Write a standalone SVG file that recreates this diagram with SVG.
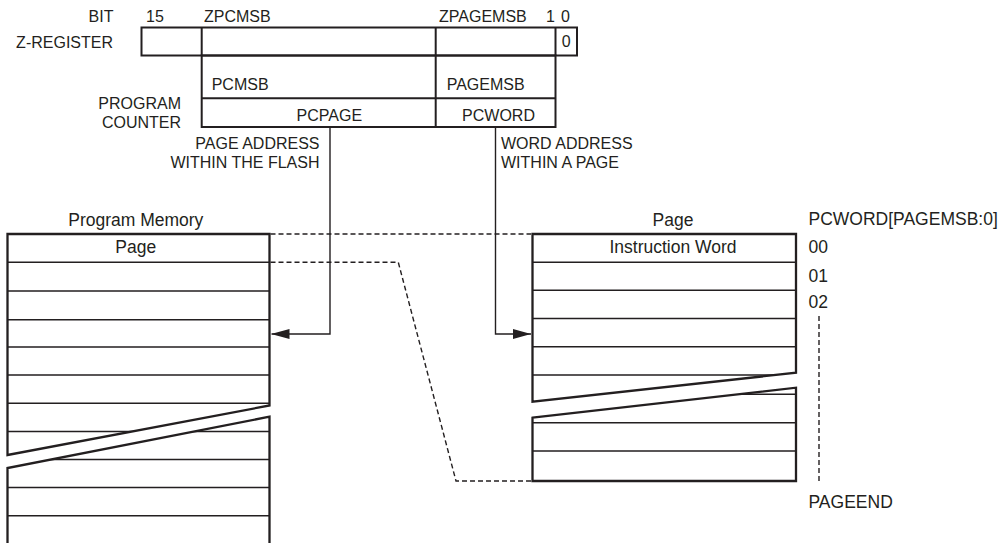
<svg xmlns="http://www.w3.org/2000/svg" width="1004" height="543" viewBox="0 0 1004 543">
  <style>
    text { font-family: "Liberation Sans", Arial, sans-serif; fill: #231f20; }
    .u { font-size: 16px; }
    .m { font-size: 17.5px; }
    .reg { fill: none; stroke: #231f20; stroke-width: 2; }
    .out { fill: none; stroke: #231f20; stroke-width: 2.3; stroke-linejoin: miter; }
    .row { stroke: #231f20; stroke-width: 1.4; fill: none; }
    .conn { fill: none; stroke: #231f20; stroke-width: 1.4; }
    .dash { fill: none; stroke: #231f20; stroke-width: 1.4; stroke-dasharray: 5 3; }
  </style>
  <defs>
    <marker id="arrow" viewBox="0 0 18 10" refX="18" refY="5" markerWidth="18" markerHeight="10" markerUnits="userSpaceOnUse" orient="auto">
      <path d="M0,0 L18,5 L0,10 Z" fill="#231f20"/>
    </marker>
    <clipPath id="pmUpper"><path d="M7.5,234 L269.5,234 L269.5,405.5 L7.5,455 Z"/></clipPath>
    <clipPath id="pmLower"><path d="M7.5,468 L269.5,416.7 L269.5,545 L7.5,545 Z"/></clipPath>
    <clipPath id="pgUpper"><path d="M532.5,234 L796,234 L796,372.7 L532.5,401.7 Z"/></clipPath>
    <clipPath id="pgLower"><path d="M532.5,417.7 L796,387.7 L796,481 L532.5,481 Z"/></clipPath>
  </defs>

  <g id="z-register">
    <text class="u" x="113.5" y="21.7" text-anchor="end">BIT</text>
    <text class="u" x="146" y="21.7">15</text>
    <text class="u" x="204" y="21.7">ZPCMSB</text>
    <text class="u" x="439" y="21.7">ZPAGEMSB</text>
    <text class="u" x="546" y="21.7">1</text>
    <text class="u" x="561" y="21.7">0</text>
    <text class="u" x="113" y="47.7" text-anchor="end">Z-REGISTER</text>
    <rect class="reg" x="141.5" y="27.5" width="435.5" height="28"/>
    <line class="reg" x1="201.7" y1="27.5" x2="201.7" y2="55.5"/>
    <line class="reg" x1="555.5" y1="27.5" x2="555.5" y2="55.5"/>
    <text class="u" x="566.3" y="47.2" text-anchor="middle">0</text>
  </g>

  <g id="program-counter">
    <rect class="reg" x="201.7" y="55.5" width="353.8" height="71.5"/>
    <line class="reg" x1="201.7" y1="98.3" x2="555.5" y2="98.3"/>
    <line class="reg" x1="435.7" y1="27.5" x2="435.7" y2="127"/>
    <text class="u" x="211.7" y="90">PCMSB</text>
    <text class="u" x="446.7" y="90">PAGEMSB</text>
    <text class="u" x="329.3" y="120.7" text-anchor="middle">PCPAGE</text>
    <text class="u" x="498.5" y="120.7" text-anchor="middle">PCWORD</text>
    <text class="u" x="181" y="109.3" text-anchor="end">PROGRAM</text>
    <text class="u" x="181" y="127.7" text-anchor="end">COUNTER</text>
  </g>

  <g id="address-labels">
    <text class="u" x="319.5" y="149" text-anchor="end">PAGE ADDRESS</text>
    <text class="u" x="319.5" y="167.7" text-anchor="end">WITHIN THE FLASH</text>
    <text class="u" x="501" y="149">WORD ADDRESS</text>
    <text class="u" x="501" y="167.7">WITHIN A PAGE</text>
  </g>

  <g id="program-memory">
    <text class="m" x="135.8" y="226" text-anchor="middle">Program Memory</text>
    <text class="m" x="135.7" y="253.3" text-anchor="middle">Page</text>
    <g clip-path="url(#pmUpper)">
      <path class="row" d="M7.5,262.3 H269.5 M7.5,291 H269.5 M7.5,319.7 H269.5 M7.5,347 H269.5 M7.5,375 H269.5 M7.5,403.3 H269.5 M7.5,431.5 H269.5"/>
    </g>
    <g clip-path="url(#pmLower)">
      <path class="row" d="M7.5,431.5 H269.5 M7.5,459.5 H269.5 M7.5,487.5 H269.5 M7.5,515.8 H269.5"/>
    </g>
    <path class="out" d="M7.5,234 L269.5,234 L269.5,405.5 L7.5,455 Z"/>
    <path class="out" d="M7.5,546 L7.5,468 L269.5,416.7 L269.5,546"/>
  </g>

  <g id="page">
    <text class="m" x="673" y="225.7" text-anchor="middle">Page</text>
    <text class="m" x="673" y="253.3" text-anchor="middle">Instruction Word</text>
    <g clip-path="url(#pgUpper)">
      <path class="row" d="M532.5,262.3 H796 M532.5,290.3 H796 M532.5,318.5 H796 M532.5,346.7 H796 M532.5,375 H796"/>
    </g>
    <g clip-path="url(#pgLower)">
      <path class="row" d="M532.5,394.3 H796 M532.5,422.7 H796 M532.5,451 H796"/>
    </g>
    <path class="out" d="M532.5,234 L796,234 L796,372.7 L532.5,401.7 Z"/>
    <path class="out" d="M532.5,417.7 L796,387.7 L796,481 L532.5,481 Z"/>
  </g>

  <g id="pcword-index">
    <text class="m" x="808.5" y="225">PCWORD[PAGEMSB:0]</text>
    <text class="m" x="808.5" y="253.3">00</text>
    <text class="m" x="808.5" y="281.7">01</text>
    <text class="m" x="808.5" y="308.3">02</text>
    <line class="dash" x1="819" y1="316" x2="819" y2="482" stroke-dasharray="6 3"/>
    <text class="m" x="808.5" y="508.3">PAGEEND</text>
  </g>

  <g id="connectors">
    <path class="conn" d="M330,127 V334 H271.5" marker-end="url(#arrow)"/>
    <path class="conn" d="M495.5,127 V334 H531" marker-end="url(#arrow)"/>
    <path class="dash" d="M270.5,234 H531"/>
    <path class="dash" d="M270.5,262.3 H398.3 L456,481 H531"/>
  </g>
</svg>
